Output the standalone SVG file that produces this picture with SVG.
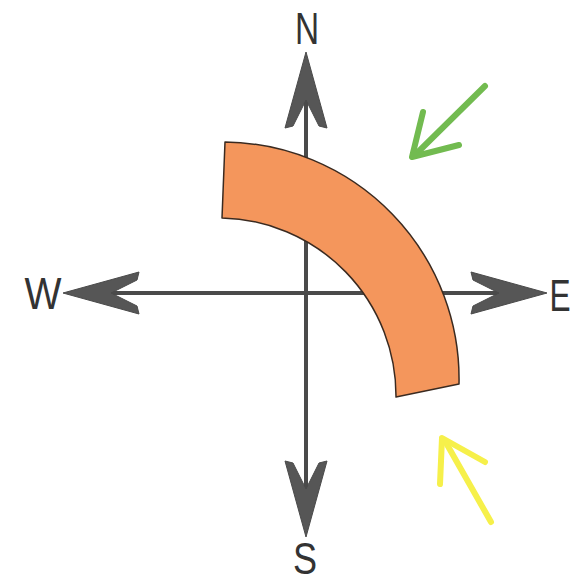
<svg xmlns="http://www.w3.org/2000/svg" width="575" height="583" viewBox="0 0 575 583">
<style>
.axis{stroke:#4a4a4a;stroke-width:4;fill:none}
.head{fill:#565656;stroke:#4a4a4a;stroke-width:1;stroke-linejoin:round}
.lbl{font-family:"Liberation Sans","DejaVu Sans",sans-serif;font-size:44px;fill:#333;text-anchor:middle}
.band{fill:#F4965C;stroke:#3a2a20;stroke-width:1.5;stroke-linejoin:round}
.green{stroke:#72BB50;stroke-width:6;fill:none;stroke-linecap:round;stroke-linejoin:round}
.yellow{stroke:#F6F04A;stroke-width:6;fill:none;stroke-linecap:round;stroke-linejoin:round}
</style>
<defs>
<path id="ah" d="M0,0 L21,76 L13,74 L0,48 L-13,74 L-21,76 Z"/>
</defs>
<rect width="575" height="583" fill="#ffffff"/>
<g id="compass">
<line class="axis" x1="306" y1="60" x2="306" y2="530"/>
<line class="axis" x1="70" y1="293" x2="540" y2="293"/>
<use href="#ah" class="head" transform="translate(306,52)"/>
<use href="#ah" class="head" transform="translate(306,537) rotate(180)"/>
<use href="#ah" class="head" transform="translate(63,293) rotate(-90)"/>
<use href="#ah" class="head" transform="translate(547,293) rotate(90)"/>
</g>
<g id="labels">
<text class="lbl" transform="translate(307,44) scale(0.76,1)">N</text>
<text class="lbl" transform="translate(305,574) scale(0.82,1)">S</text>
<text class="lbl" transform="translate(43,309) scale(0.89,1)">W</text>
<text class="lbl" transform="translate(560,311) scale(0.72,1)">E</text>
</g>
<g id="band">
<path class="band" d="M225,142 A237,237 0 0 1 459,384 L396,397 A178,178 0 0 0 222,218 Z"/>
</g>
<g id="green-arrow">
<line class="green" x1="485" y1="86" x2="415" y2="155"/>
<polyline class="green" points="423,112 412,157 459,145"/>
</g>
<g id="yellow-arrow">
<line class="yellow" x1="491" y1="522" x2="445" y2="441"/>
<polyline class="yellow" points="440,484 442,438 485,462"/>
</g>
</svg>
